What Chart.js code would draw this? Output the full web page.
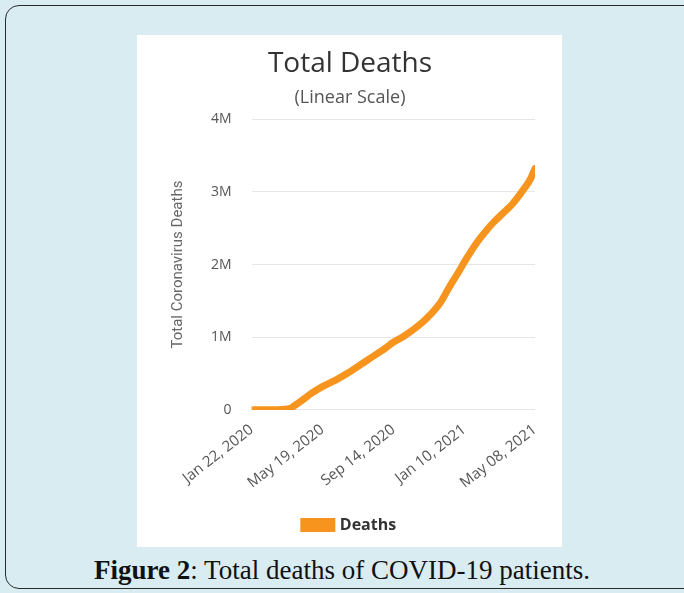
<!DOCTYPE html>
<html>
<head>
<meta charset="utf-8">
<script src="https://cdn.jsdelivr.net/npm/chart.js@4.4.0/dist/chart.umd.min.js"></script>
<style>
body { margin:0; width:684px; height:593px; background:#d8ecf2; overflow:hidden; font-family:Roboto, sans-serif; }
#frame { position:absolute; left:5px; top:5px; width:700px; height:582px; border:1.5px solid #2a2a2a; border-radius:14px; background:#d8ecf2; }
#panel { position:absolute; left:137px; top:35px; width:425px; height:512px; background:#fff; }
#caption { position:absolute; left:0; width:684px; top:555px; text-align:center; font-family:'Liberation Serif', serif; font-size:27px; color:#111; }
</style>
</head>
<body>
<div id="frame"></div>
<div id="panel"><canvas id="myChart" width="425" height="512"></canvas></div>
<div id="caption"><b>Figure 2</b>: Total deaths of COVID-19 patients.</div>
<script>
// days since Jan 22, 2020
const days = [0, 40, 64, 70, 84, 100, 118, 140, 161, 192, 223, 236, 253, 284, 300, 314, 330, 345, 354, 375, 392, 403, 423, 434, 450, 464, 472];
const deaths = [0, 3000, 20000, 50000, 130000, 230000, 320000, 410000, 510000, 680000, 850000, 930000, 1010000, 1200000, 1330000, 1470000, 1700000, 1900000, 2030000, 2300000, 2480000, 2580000, 2740000, 2830000, 3000000, 3170000, 3320000];
const xTickLabels = ['Jan 22, 2020', 'May 19, 2020', 'Sep 14, 2020', 'Jan 10, 2021', 'May 08, 2021'];
const yTickLabels = ['0', '1M', '2M', '3M', '4M'];

let ctx = document.getElementById('myChart').getContext('2d');
let points = days.map((d, i) => ({x: d, y: deaths[i]}));

let myChart = new Chart(ctx, {
    type: 'line',
    data: {
        datasets: [{
            label: 'Deaths',
            data: points,
            borderColor: '#f7941d',
            backgroundColor: '#f7941d',
            borderWidth: 7,
            pointRadius: 0,
            cubicInterpolationMode: 'monotone',
            borderCapStyle: 'round'
        }]
    },
    options: {
        responsive: false,
        animation: false,
        layout: { padding: { left: 28, right: 27, top: 0, bottom: 4 } },
        plugins: {
            title: {
                display: true,
                text: 'Total Deaths',
                color: '#333',
                font: { family: 'Open Sans', size: 28, weight: 'normal' },
                padding: { top: 12, bottom: 6 }
            },
            subtitle: {
                display: true,
                text: '(Linear Scale)',
                color: '#555',
                font: { family: 'Open Sans', size: 18 },
                padding: { top: 0, bottom: 11 }
            },
            legend: {
                position: 'bottom',
                labels: {
                    boxWidth: 28,
                    boxHeight: 7,
                    padding: 14,
                    color: '#333',
                    font: { family: 'Open Sans', size: 16, weight: 'bold' }
                }
            },
            tooltip: { enabled: false }
        },
        scales: {
            x: {
                type: 'linear',
                min: 0,
                max: 472,
                grid: { display: false },
                border: { display: false },
                afterFit: (scale) => { scale.height += 8; },
                ticks: {
                    stepSize: 118,
                    maxRotation: 38,
                    minRotation: 38,
                    color: '#555',
                    font: { family: 'Open Sans', size: 15 },
                    callback: (v) => xTickLabels[Math.round(v / 118)] || ''
                }
            },
            y: {
                min: 0,
                max: 4000000,
                border: { display: false },
                grid: { color: '#e6e6e6', drawTicks: false },
                title: {
                    display: true,
                    text: 'Total Coronavirus Deaths',
                    color: '#666',
                    font: { family: 'Roboto', size: 15 }
                },
                ticks: {
                    stepSize: 1000000,
                    padding: 20,
                    color: '#555',
                    font: { family: 'Open Sans', size: 14 },
                    callback: (v) => yTickLabels[Math.round(v / 1000000)]
                }
            }
        }
    }
});
</script>
</body>
</html>
